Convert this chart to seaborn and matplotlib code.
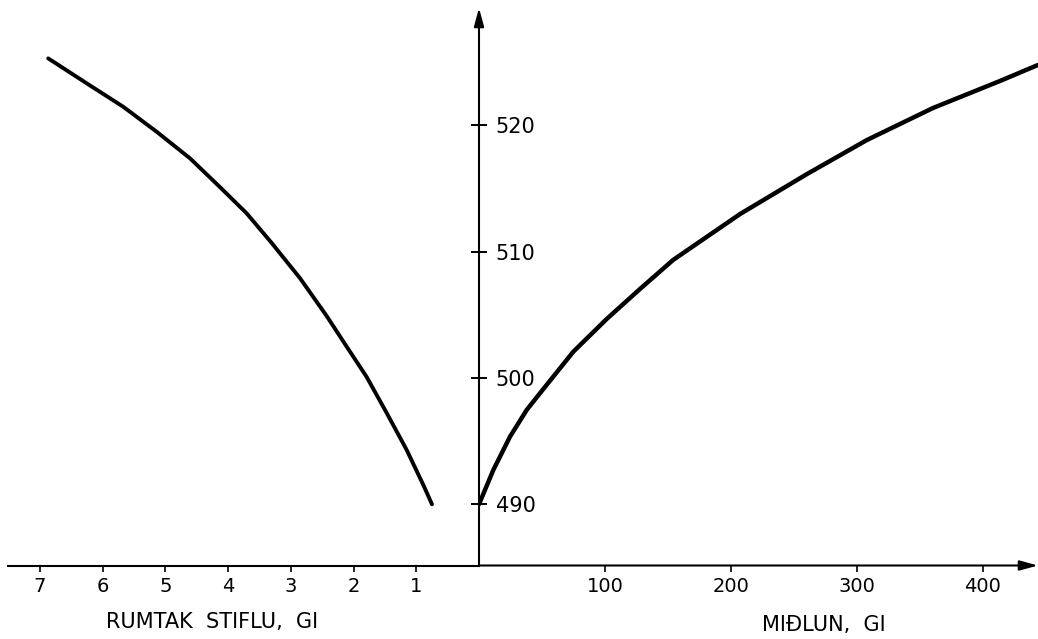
import numpy as np
import pandas as pd
import matplotlib
matplotlib.use('Agg')
import matplotlib.pyplot as plt
import seaborn as sns

# Readings: water level (m) vs reservoir volume (Gl) and vs storage (Gl)
left_vol = [0.750, 0.888, 1.153, 1.472, 1.791, 2.137, 2.429, 2.855, 3.317, 3.705,
            4.131, 4.609, 5.140, 5.673, 6.204, 6.869]
left_level = [490.00, 491.53, 494.30, 497.23, 500.08, 502.69, 504.91, 507.91, 510.76, 513.04,
              515.12, 517.40, 519.50, 521.48, 523.17, 525.31]

right_flow = [0, 11.4, 24.6, 37.9, 48.4, 74.9, 101.4, 127.9, 154.1, 207.3,
              260.5, 308.2, 360.6, 413.8, 444.0]
right_level = [490.00, 492.72, 495.35, 497.47, 498.79, 502.08, 504.67, 507.05, 509.34, 512.98,
               516.15, 518.85, 521.38, 523.52, 524.79]

left_ticks = [1, 2, 3, 4, 5, 6, 7]
right_ticks = [100, 200, 300, 400]
level_ticks = [490, 500, 510, 520]

left_df = pd.DataFrame({'Rumtak': left_vol, 'Hæð': left_level})
right_df = pd.DataFrame({'Miðlun': right_flow, 'Hæð': right_level})

sns.set_style('white')
plt.rcParams['font.family'] = ['DejaVu Sans']
plt.rcParams['text.color'] = 'black'
plt.rcParams['xtick.color'] = 'black'
plt.rcParams['ytick.color'] = 'black'
plt.rcParams['axes.labelcolor'] = 'black'
plt.rcParams['lines.solid_joinstyle'] = 'round'
plt.rcParams['lines.solid_capstyle'] = 'round'

fig = plt.figure(figsize=(10.38, 6.39), dpi=100)
W, H = 1038, 639
bottom = 1 - 565.5 / H
top = 1 - 8 / H
ax_l = fig.add_axes([8 / W, bottom, (479 - 8) / W, top - bottom])
ax_r = fig.add_axes([479 / W, bottom, (1038 - 479) / W, top - bottom])
for ax in (ax_l, ax_r):
    ax.set_facecolor('none')
    ax.set_ylim(485.15, 529.3)
    for s in ax.spines.values():
        s.set_visible(False)

# left panel: reservoir volume, axis runs right to left
sns.lineplot(data=left_df, x='Rumtak', y='Hæð', ax=ax_l, color='black', lw=2.8, sort=False)
ax_l.set_xlim(7.51, 0)
ax_l.spines['bottom'].set_visible(True)
ax_l.spines['bottom'].set_linewidth(1.5)
ax_l.spines['bottom'].set_color('black')
ax_l.set_xticks(left_ticks)
ax_l.set_xticklabels([str(t) for t in left_ticks])
ax_l.yaxis.tick_right()
ax_l.set_yticks(level_ticks)
ax_l.set_yticklabels([str(t) for t in level_ticks])
ax_l.tick_params(axis='y', direction='inout', length=12, width=1.4, pad=6,
                 labelsize=15, right=True, left=False, labelright=True, labelleft=False)
ax_l.tick_params(axis='x', direction='out', length=4, width=1.2, pad=4,
                 labelsize=14, bottom=True)
ax_l.set_xlabel('RUMTAK  STIFLU,  GI', fontsize=15)
ax_l.set_ylabel('')
ax_l.xaxis.set_label_coords(0.433, -0.083)

# right panel: storage
sns.lineplot(data=right_df, x='Miðlun', y='Hæð', ax=ax_r, color='black', lw=3.2, sort=False)
ax_r.set_xlim(0, 444)
ax_r.set_xticks(right_ticks)
ax_r.set_xticklabels([str(t) for t in right_ticks])
ax_r.set_yticks([])
ax_r.tick_params(axis='x', direction='out', length=4, width=1.2, pad=4,
                 labelsize=14, bottom=True)
ax_r.set_xlabel('MIÐLUN,  GI', fontsize=15)
ax_r.set_ylabel('')
ax_r.xaxis.set_label_coords(0.617, -0.088)

arrow = dict(arrowstyle='-|>,head_length=1.1,head_width=0.3', color='black',
             lw=1.5, shrinkA=0, shrinkB=0)
ax_r.annotate('', xy=(0, 1), xytext=(0, 0), xycoords='axes fraction',
              textcoords='axes fraction', arrowprops=arrow, annotation_clip=False)
ax_r.annotate('', xy=(1, 0), xytext=(0, 0), xycoords='axes fraction',
              textcoords='axes fraction', arrowprops=arrow, annotation_clip=False)

fig.savefig('out.png', dpi=100)
